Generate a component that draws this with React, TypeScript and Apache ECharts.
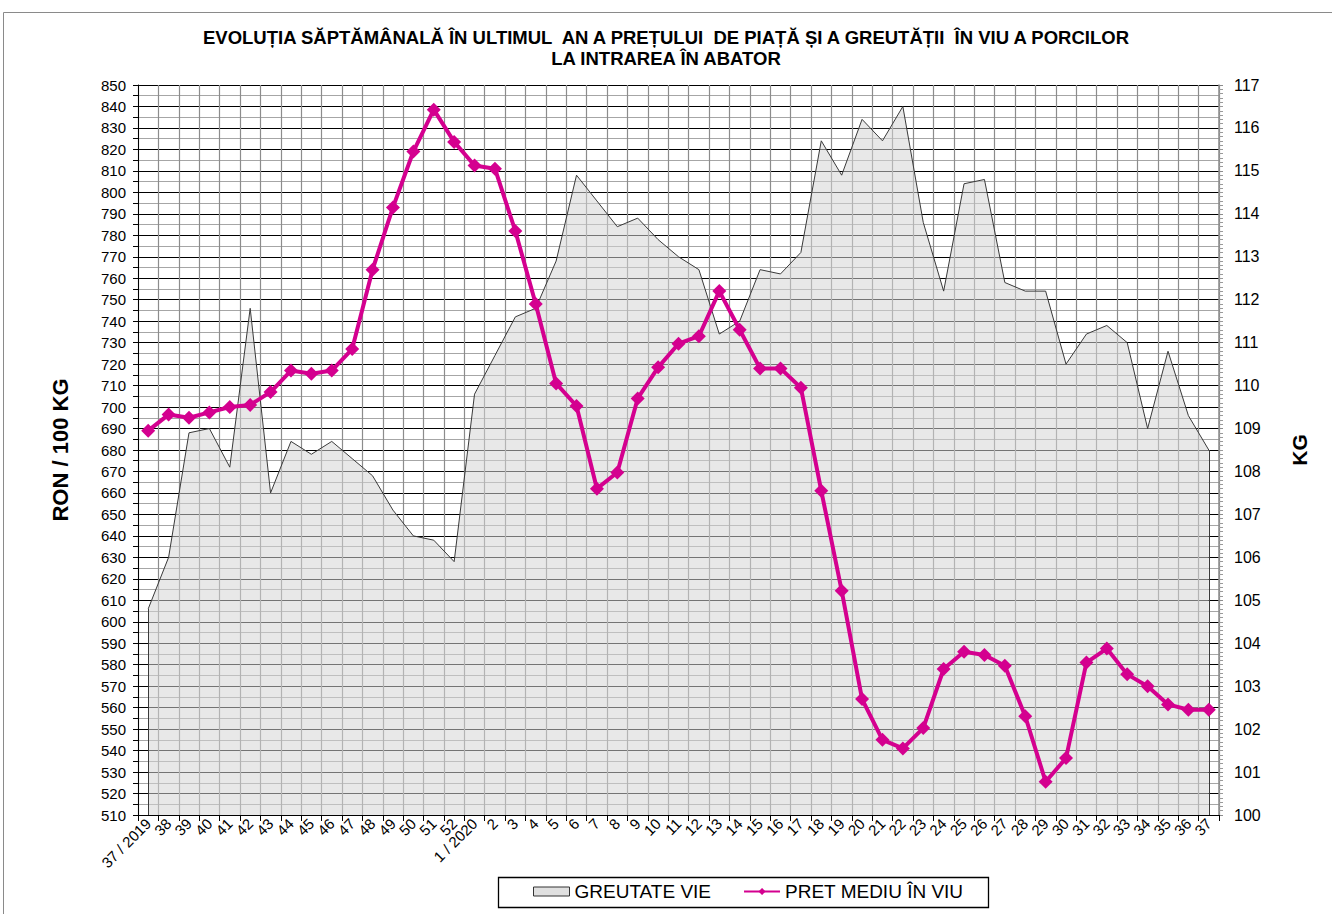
import React, { useEffect, useRef } from "react";
import * as echarts from "echarts";

const weeks2019 = ["37 / 2019", "38", "39", "40", "41", "42", "43", "44", "45", "46", "47", "48", "49", "50", "51", "52"];
const weeks2020 = ["1 / 2020", "2", "3", "4", "5", "6", "7", "8", "9", "10", "11", "12", "13", "14", "15", "16", "17", "18", "19", "20", "21", "22", "23", "24", "25", "26", "27", "28", "29", "30", "31", "32", "33", "34", "35", "36", "37"];
const categories = [...weeks2019, ...weeks2020];

// GREUTATE VIE (kg) - right axis
const weight = [
  104.8, 106.0, 108.9, 109.0, 108.1, 111.8, 107.5, 108.7, 108.4, 108.7,
  108.3, 107.9, 107.1, 106.5, 106.4, 105.9, 109.8, 110.7, 111.6, 111.8,
  112.9, 114.9, 114.3, 113.7, 113.9, 113.4, 113.0, 112.7, 111.2, 111.5,
  112.7, 112.6, 113.1, 115.7, 114.9, 116.2, 115.7, 116.5, 113.8, 112.2,
  114.7, 114.8, 112.4, 112.2, 112.2, 110.5, 111.2, 111.4, 111.0, 109.0,
  110.8, 109.3, 108.5,
];

// PRET MEDIU IN VIU (RON / 100 kg) - left axis
const price = [
  689, 696.5, 695, 697.5, 700, 701, 707, 717, 715.5, 717,
  727, 764, 793, 819, 838.5, 823.5, 812.5, 811, 782, 748,
  711, 700.5, 662, 669.5, 704, 718.5, 729.5, 733, 754, 736,
  718, 718, 709, 661, 614.5, 564, 545, 541, 550.5, 578,
  586, 584.5, 579.5, 556, 525.5, 536.5, 581, 587.5, 575.5, 570,
  561.5, 559, 559,
];

const titleLine1 = "EVOLUȚIA SĂPTĂMÂNALĂ ÎN ULTIMUL  AN A PREȚULUI  DE PIAȚĂ ȘI A GREUTĂȚII  ÎN VIU A PORCILOR";
const titleLine2 = "LA INTRAREA ÎN ABATOR";
const seriesWeight = "GREUTATE VIE";
const seriesPrice = "PRET MEDIU ÎN VIU";
const leftName = "RON / 100 KG";
const rightName = "KG";

const FONT = "'Liberation Sans', Arial, sans-serif";

export default function App() {
  const ref = useRef<HTMLDivElement>(null);
  useEffect(() => {
    if (!ref.current) return;
    const chart = echarts.init(ref.current, null, { renderer: "svg" });
    const last = categories.length - 1;
    const titleStyle = { fontSize: 18.5, fontWeight: "bold", color: "#000", fontFamily: FONT };
    chart.setOption({
      animation: false,
      backgroundColor: "#ffffff",
      textStyle: { fontFamily: FONT, color: "#000" },
      title: [
        { text: titleLine1, left: "center", top: 28, padding: 0, textStyle: titleStyle },
        { text: titleLine2, left: "center", top: 49, padding: 0, textStyle: titleStyle },
      ],
      graphic: [
        {
          type: "rect",
          shape: { x: 3.5, y: 12.5, width: 1400, height: 1000 },
          style: { fill: "none", stroke: "#8a8a8a", lineWidth: 1 },
          silent: true,
        },
        {
          type: "rect",
          shape: { x: 498.5, y: 877.5, width: 490, height: 30 },
          style: { fill: "#fff", stroke: "#000", lineWidth: 1.3 },
          silent: true,
          z: -1,
        },
      ],
      legend: {
        left: 533,
        top: 882,
        padding: 0,
        itemGap: 32,
        itemWidth: 36,
        itemHeight: 9,
        textStyle: { fontSize: 19, color: "#000", fontFamily: FONT },
        data: [
          { name: seriesWeight, icon: "rect", itemStyle: { color: "#e0e0e0", borderColor: "#333", borderWidth: 1 } },
          { name: seriesPrice },
        ],
      },
      grid: { left: 138, right: 113, top: 85, bottom: 99, containLabel: false },
      xAxis: {
        type: "category",
        data: categories,
        boundaryGap: true,
        axisLine: { show: true, lineStyle: { color: "#000", width: 1 } },
        axisTick: { show: true, length: 6, lineStyle: { color: "#000" }, interval: 0 },
        axisLabel: { interval: 0, rotate: 45, fontSize: 15, color: "#000", margin: 6, fontFamily: FONT },
        splitLine: { show: true, interval: 0, lineStyle: { color: "#8c8c8c", width: 1.2 } },
      },
      yAxis: [
        {
          type: "value",
          min: 510,
          max: 850,
          interval: 10,
          position: "left",
          name: leftName,
          nameLocation: "middle",
          nameRotate: 90,
          nameGap: 67,
          nameTextStyle: { fontSize: 22, fontWeight: "bold", color: "#000", fontFamily: FONT },
          axisLine: { show: true, lineStyle: { color: "#000", width: 1 } },
          axisTick: { show: true, length: 5, lineStyle: { color: "#000" } },
          minorTick: { show: true, splitNumber: 2, length: 5, lineStyle: { color: "#000" } },
          axisLabel: { fontSize: 15, color: "#000", margin: 12, fontFamily: FONT },
          splitLine: { show: true, lineStyle: { color: "#000", width: 1.2 } },
          minorSplitLine: { show: true, lineStyle: { color: "#a6a6a6", width: 1.2 } },
        },
        {
          type: "value",
          min: 100,
          max: 117,
          interval: 1,
          position: "right",
          name: rightName,
          nameLocation: "middle",
          nameRotate: 90,
          nameGap: 70,
          nameTextStyle: { fontSize: 21, fontWeight: "bold", color: "#000", fontFamily: FONT },
          axisLine: { show: true, lineStyle: { color: "#8c8c8c", width: 1.5 } },
          axisTick: { show: true, length: 4, lineStyle: { color: "#8c8c8c" } },
          minorTick: { show: true, splitNumber: 10, length: 4, lineStyle: { color: "#9a9a9a" } },
          axisLabel: { fontSize: 16, color: "#000", margin: 15, fontFamily: FONT },
          splitLine: { show: false },
        },
      ],
      series: [
        {
          name: seriesWeight,
          type: "line",
          yAxisIndex: 1,
          data: weight,
          symbol: "none",
          lineStyle: { color: "#3a3a3a", width: 1 },
          itemStyle: { color: "#e0e0e0", borderColor: "#333" },
          areaStyle: { color: "rgba(212,212,212,0.78)", origin: "start" },
          z: 2,
          markLine: {
            silent: true,
            symbol: "none",
            label: { show: false },
            lineStyle: { color: "#3a3a3a", width: 1, type: "solid" },
            data: [
              [{ coord: [categories[0], 100] }, { coord: [categories[0], weight[0]] }],
              [{ coord: [categories[last], 100] }, { coord: [categories[last], weight[last]] }],
            ],
          },
        },
        {
          name: seriesPrice,
          type: "line",
          yAxisIndex: 0,
          data: price,
          symbol: "diamond",
          symbolSize: 14,
          lineStyle: { color: "#d4008f", width: 4 },
          itemStyle: { color: "#d4008f" },
          z: 5,
        },
      ],
    });
    return () => chart.dispose();
  }, []);
  return (
    <div
      ref={ref}
      style={{ position: "fixed", left: 0, top: 0, width: 1332, height: 914, background: "#fff" }}
    />
  );
}
